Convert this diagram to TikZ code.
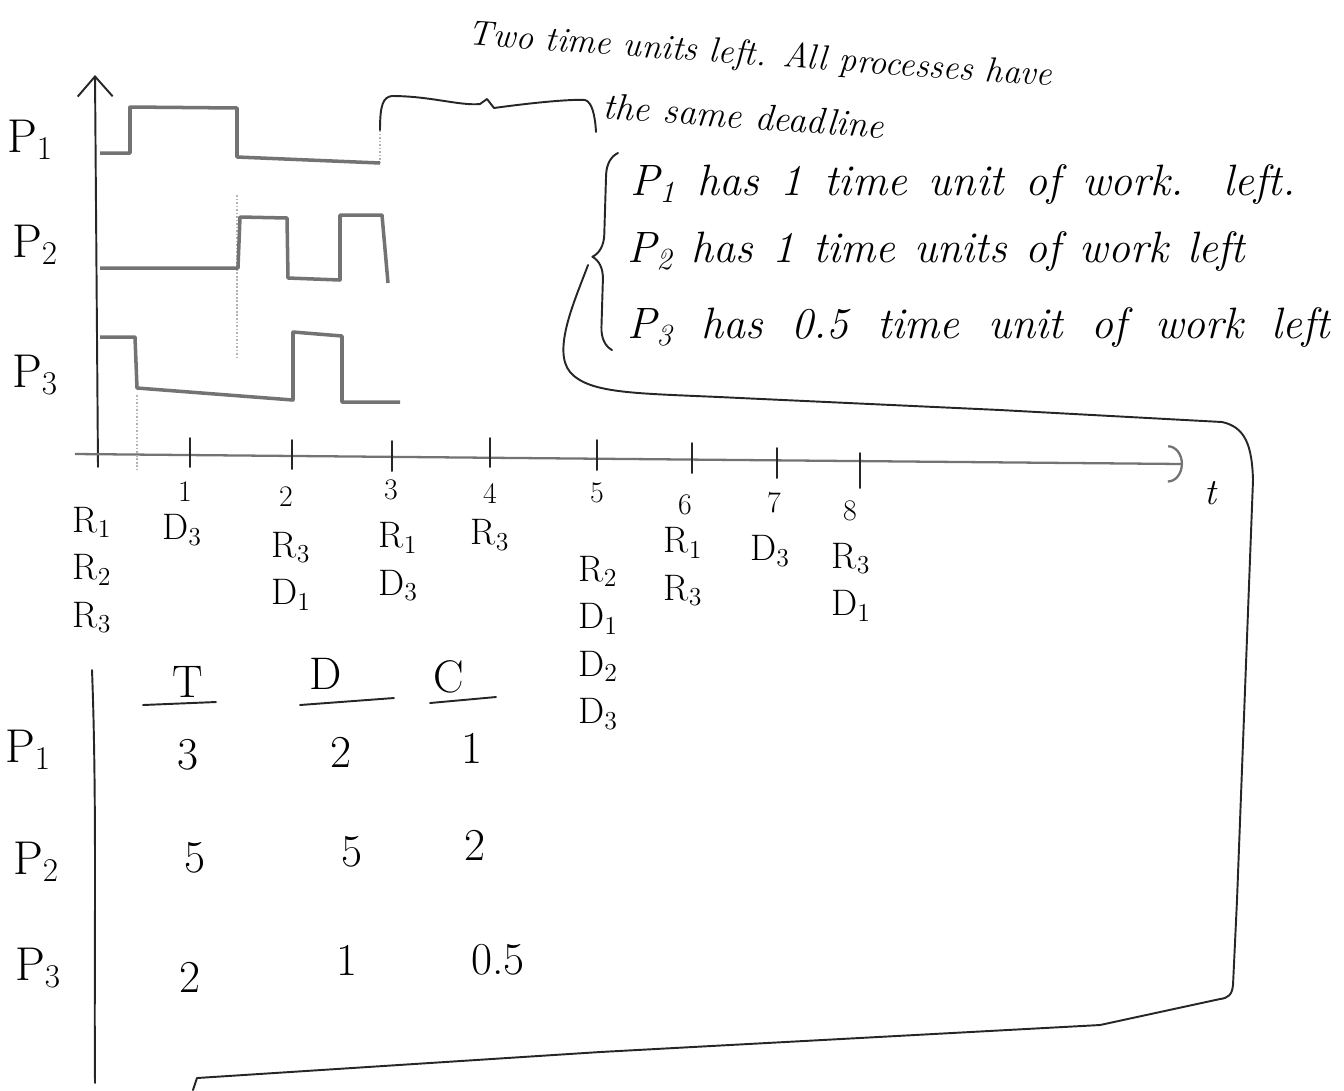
\documentclass[tikz,border=0pt]{standalone}
\usepackage{tikz}
\usetikzlibrary{arrows.meta, decorations.pathreplacing, positioning}
\newcommand{\ev}[2]{#1\textsubscript{#2}}

\begin{document}
\begin{tikzpicture}[
    x=0.02cm, y=-0.02cm,
    ink/.style={draw=black!85, line width=1.1pt, line cap=round, line join=round},
    signal/.style={draw=black!55, line width=2pt, line join=round},
    axis/.style={draw=black!55, line width=1.3pt},
    guide/.style={draw=black!30, line width=1pt, densely dotted},
    proc/.style={font=\fontsize{27}{30}\selectfont, inner sep=0pt},
    tick/.style={font=\fontsize{17}{20}\selectfont, inner sep=0pt},
    event/.style={font=\fontsize{21}{27}\selectfont, inner sep=0pt, align=center},
    note/.style={font=\fontsize{25}{28}\selectfont\itshape, inner sep=0pt, anchor=west},
    cell/.style={font=\fontsize{26}{28}\selectfont, inner sep=0pt}
]
\useasboundingbox (0,0) rectangle (1344,1090);

% Axes
\draw[ink, -{Straight Barb[length=0.4cm, width=0.7cm]}] (98,467) -- (95,75);
\draw[axis, -{Arc Barb[length=0.3cm, width=0.75cm]}] (75,454) -- (1183,464);
\node[font=\fontsize{21}{24}\selectfont\itshape, inner sep=0pt] (t) at (1210,493) {t};
\foreach \x/\a/\b in {190/438/467, 292/440/469, 392/441/471, 490/438/467, 597/440/470, 692/443/473, 777/448/478, 860/453/488}
    \draw[ink] (\x,\a) -- (\x,\b);

% Faint guides
\draw[guide] (137,395) -- (137,470);
\draw[guide] (237,195) -- (237,360);
\draw[guide] (380,130) -- (380,162);

% Process labels
\node[proc] (lp1) at (30,140) {\ev{P}{1}};
\node[proc] (lp2) at (35,245) {\ev{P}{2}};
\node[proc] (lp3) at (35,375) {\ev{P}{3}};

% Signals
\draw[signal] (100,153) -- (130,153) -- (130,107) -- (237,108) -- (237,157) -- (380,163);
\draw[signal] (100,268) -- (238,268) -- (240,217) -- (287,218) -- (288,278) -- (340,280) -- (340,215) -- (382,215) -- (388,283);
\draw[signal] (100,337) -- (135,337) -- (137,388) -- (293,400) -- (293,332) -- (342,336) -- (342,402) -- (400,402);

% Tick numbers
\foreach \n/\x/\y in {1/185/492, 2/286/497, 3/391/490, 4/490/493, 5/597/493, 6/685/505, 7/774/503, 8/850/511}
    \node[tick] (n\n) at (\x,\y) {\n};

% Releases and deadlines
\node[event] (e0) at (92,570) {\ev{R}{1}\\\ev{R}{2}\\\ev{R}{3}};
\node[event] (e1) at (182,530) {\ev{D}{3}};
\node[event] (e2) at (291,571) {\ev{R}{3}\\\ev{D}{1}};
\node[event] (e3) at (398,562) {\ev{R}{1}\\\ev{D}{3}};
\node[event] (e4) at (490,535) {\ev{R}{3}};
\node[event] (e5) at (598,643) {\ev{R}{2}\\\ev{D}{1}\\\ev{D}{2}\\\ev{D}{3}};
\node[event] (e6) at (683,567) {\ev{R}{1}\\\ev{R}{3}};
\node[event] (e7) at (770,551) {\ev{D}{3}};
\node[event] (e8) at (851,582) {\ev{R}{3}\\\ev{D}{1}};

% Notes
\node[note, font=\fontsize{20}{24}\selectfont\itshape, rotate=-4] (two) at (468,36) {Two time units left. All processes have};
\node[note, font=\fontsize{21}{24}\selectfont\itshape, rotate=-4] (same) at (603,106) {the same deadline};
\draw[ink] (380,130) .. controls (380,105) and (383,97) .. (392,96)
    .. controls (430,96) and (460,106) .. (480,104) -- (487,99) -- (494,108)
    .. controls (530,103) and (570,99) .. (585,100) .. controls (592,102) and (595,115) .. (596,132);

\node[note] (w1) at (630,185) {\makebox[13.3cm][s]{\ev{P}{1} has 1 time unit of work. left.}};
\node[note] (w2) at (627,252) {\makebox[12.36cm][s]{\ev{P}{2} has 1 time units of work left}};
\node[note] (w3) at (627,328) {\makebox[14.06cm][s]{\ev{P}{3} has 0.5 time unit of work left}};
\draw[ink, decorate, decoration={brace, amplitude=0.45cm, aspect=0.47}] (612,350) -- (618,153);
\coordinate (ltip) at (588,265);
\draw[ink] (ltip) .. controls (575,300) and (552,350) .. (570,372)
    .. controls (590,395) and (640,393) .. (740,398) -- (1000,410) -- (1222,422)
    .. controls (1245,427) and (1252,445) .. (1253,480) -- (1237,900) -- (1233,985)
    .. controls (1232,995) and (1228,998) .. (1220,999) -- (1100,1025) -- (600,1052)
    -- (197,1078) -- (193,1090);

% Table
\draw[ink] (92,670) .. controls (97,800) and (94,950) .. (95,1083);
\node[cell] (hT) at (188,682) {T};
\node[cell] (hD) at (326,674) {D};
\node[cell] (hC) at (449,677) {C};
\draw[ink] (143,705) -- (216,702);
\draw[ink] (300,705) -- (394,698);
\draw[ink] (430,703) -- (496,697);

\node[proc] (tp1) at (28,750) {\ev{P}{1}};
\node[proc] (tp2) at (36,862) {\ev{P}{2}};
\node[proc] (tp3) at (38,968) {\ev{P}{3}};

\node[cell] (c11) at (188,755) {3};
\node[cell] (c12) at (341,752) {2};
\node[cell] (c13) at (472,748) {1};
\node[cell] (c21) at (195,858) {5};
\node[cell] (c22) at (352,852) {5};
\node[cell] (c23) at (475,845) {2};
\node[cell] (c31) at (190,977) {2};
\node[cell] (c32) at (347,960) {1};
\node[cell] (c33) at (498,960) {0.5};

\end{tikzpicture}
\end{document}
